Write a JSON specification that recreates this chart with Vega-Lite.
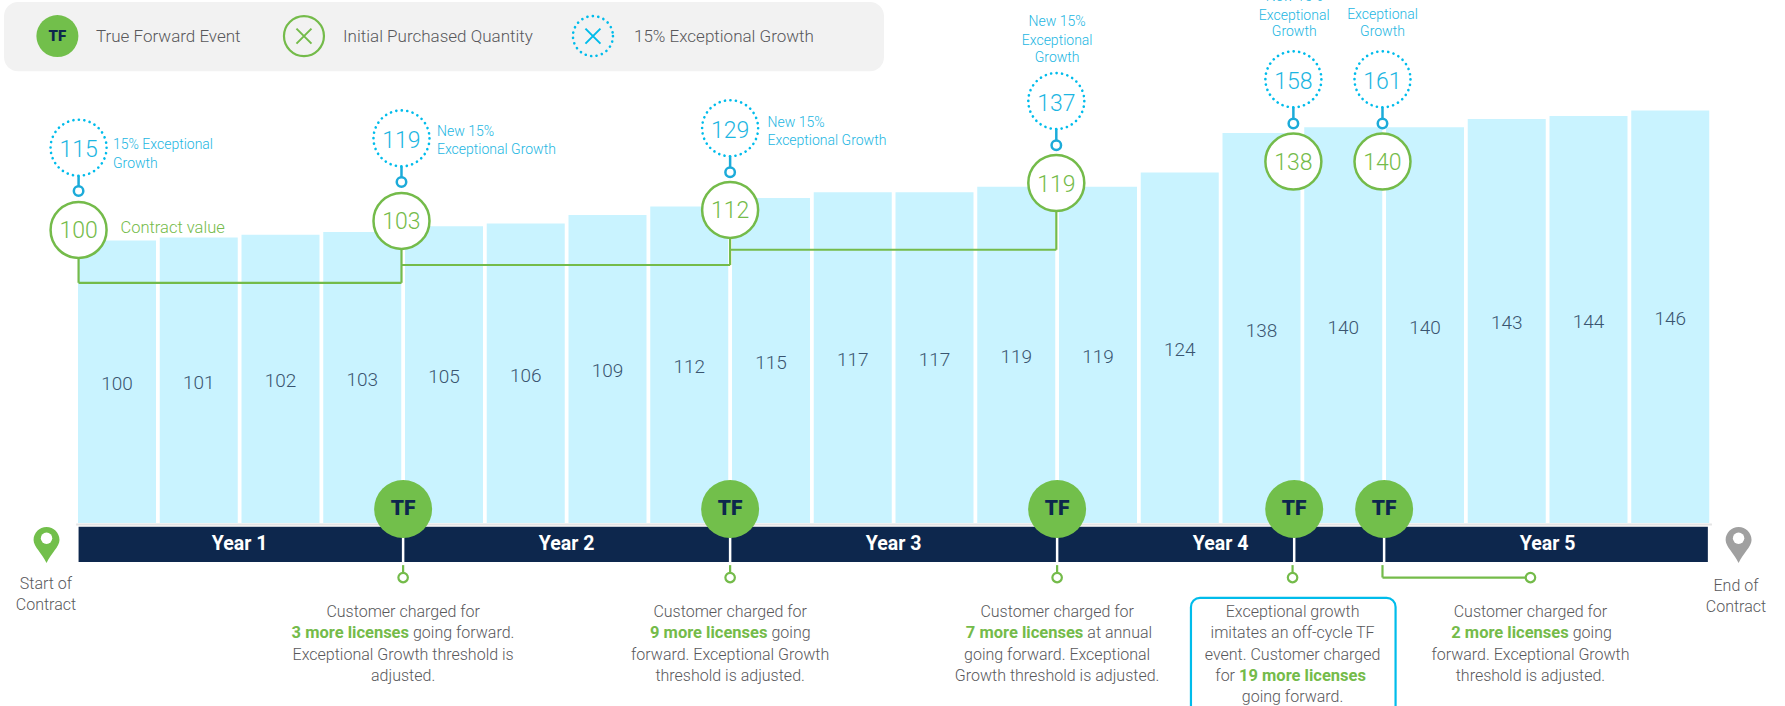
{
"$schema":"https://vega.github.io/schema/vega-lite/v6.json",
"width":1785,"height":706,"autosize":{"type":"fit","contains":"padding"},"padding":0,"background":"white",
"config":{"view":{"stroke":null},"text":{"font":"Roboto","fontWeight":300,"baseline":"middle"}},
"datasets":{
"bars":[{"q":1,"v":100,"mid":50},{"q":2,"v":101,"mid":50.5},{"q":3,"v":102,"mid":51},{"q":4,"v":103,"mid":51.5},{"q":5,"v":105,"mid":52.5},{"q":6,"v":106,"mid":53},{"q":7,"v":109,"mid":54.5},{"q":8,"v":112,"mid":56},{"q":9,"v":115,"mid":57.5},{"q":10,"v":117,"mid":58.5},{"q":11,"v":117,"mid":58.5},{"q":12,"v":119,"mid":59.5},{"q":13,"v":119,"mid":59.5},{"q":14,"v":124,"mid":62},{"q":15,"v":138,"mid":69},{"q":16,"v":140,"mid":70},{"q":17,"v":140,"mid":70},{"q":18,"v":143,"mid":71.5},{"q":19,"v":144,"mid":72},{"q":20,"v":146,"mid":73}],
"events":[{"q":4.5,"v":4.95,"top":0,"bot":-13.8,"t":"TF"},{"q":8.5,"v":4.95,"top":0,"bot":-13.8,"t":"TF"},{"q":12.5,"v":4.95,"top":0,"bot":-13.8,"t":"TF"},{"q":15.4,"v":4.95,"top":0,"bot":-13.8,"t":"TF"},{"q":16.5,"v":4.95,"top":0,"bot":-13.8,"t":"TF"}],
"years":[{"q":2.5,"v":-7.4,"t":"Year 1"},{"q":6.5,"v":-7.4,"t":"Year 2"},{"q":10.5,"v":-7.4,"t":"Year 3"},{"q":14.5,"v":-7.4,"t":"Year 4"},{"q":18.5,"v":-7.4,"t":"Year 5"}],
"green":[{"q":0.53,"v":103.7,"t":"100"},{"q":4.48,"v":106.9,"t":"103"},{"q":8.5,"v":110.8,"t":"112"},{"q":12.49,"v":120.3,"t":"119"},{"q":15.39,"v":127.9,"t":"138"},{"q":16.48,"v":127.9,"t":"140"}],
"cyan":[{"q":0.53,"v":132.8,"r":117.5,"t":"115"},{"q":4.48,"v":136.1,"r":120.7,"t":"119"},{"q":8.5,"v":139.7,"r":124.1,"t":"129"},{"q":12.49,"v":149.3,"r":133.7,"t":"137"},{"q":15.39,"v":157,"r":141.4,"t":"158"},{"q":16.48,"v":157,"r":141.4,"t":"161"}],
"links":[{"q":0.53,"q2":0.53,"v":103.7,"v2":85},{"q":0.53,"q2":4.48,"v":85,"v2":85},{"q":4.48,"q2":4.48,"v":85,"v2":106.9},{"q":4.48,"q2":8.5,"v":91.3,"v2":91.3},{"q":8.5,"q2":8.5,"v":91.3,"v2":110.8},{"q":8.5,"q2":12.49,"v":96.7,"v2":96.7},{"q":12.49,"q2":12.49,"v":96.7,"v2":120.3},
{"q":4.5,"q2":4.5,"v":-14.9,"v2":-19.3},{"q":8.5,"q2":8.5,"v":-14.9,"v2":-19.3},{"q":12.5,"q2":12.5,"v":-14.9,"v2":-19.3},{"q":15.38,"q2":15.38,"v":-14.9,"v2":-19.3},{"q":16.48,"q2":16.48,"v":-14.9,"v2":-19.3},{"q":16.48,"q2":18.29,"v":-19.3,"v2":-19.3}],
"rings":[{"q":4.5,"v":-19.3},{"q":8.5,"v":-19.3},{"q":12.5,"v":-19.3},{"q":15.38,"v":-19.3},{"q":18.29,"v":-19.3}],
"body":[
{"q":4.5,"v":-31.4,"t":"Customer charged for"},{"q":4.5,"v":-46.6,"t":"Exceptional Growth threshold is"},{"q":4.5,"v":-54.1,"t":"adjusted."},
{"q":8.5,"v":-31.4,"t":"Customer charged for"},{"q":8.5,"v":-46.6,"t":"forward. Exceptional Growth"},{"q":8.5,"v":-54.1,"t":"threshold is adjusted."},
{"q":12.5,"v":-31.4,"t":"Customer charged for"},{"q":12.5,"v":-46.6,"t":"going forward. Exceptional"},{"q":12.5,"v":-54.1,"t":"Growth threshold is adjusted."},
{"q":15.38,"v":-31.4,"t":"Exceptional growth"},{"q":15.38,"v":-38.9,"t":"imitates an off-cycle TF"},{"q":15.38,"v":-46.6,"t":"event. Customer charged"},{"q":15.38,"v":-61.5,"t":"going forward."},
{"q":18.29,"v":-31.4,"t":"Customer charged for"},{"q":18.29,"v":-46.6,"t":"forward. Exceptional Growth"},{"q":18.29,"v":-54.1,"t":"threshold is adjusted."},
{"q":0.131,"v":-21.5,"t":"Start of"},{"q":0.131,"v":-29,"t":"Contract"},{"q":20.804,"v":-22.2,"t":"End of"},{"q":20.804,"v":-29.6,"t":"Contract"}],
"boldR":[{"q":4.572,"v":-38.9,"t":"3 more licenses"},{"q":8.957,"v":-38.9,"t":"9 more licenses"},{"q":12.82,"v":-38.9,"t":"7 more licenses"},{"q":18.758,"v":-38.9,"t":"2 more licenses"}],
"plainL":[{"q":4.62,"v":-38.9,"t":"going forward."},{"q":9.006,"v":-38.9,"t":"going"},{"q":12.87,"v":-38.9,"t":"at annual"},{"q":18.807,"v":-38.9,"t":"going"}],
"labelsL":[{"q":0.951,"v":133.6,"t":"15% Exceptional"},{"q":0.951,"v":126.9,"t":"Growth"},{"q":4.914,"v":138.5,"t":"New 15%"},{"q":4.914,"v":132.1,"t":"Exceptional Growth"},{"q":8.957,"v":141.7,"t":"New 15%"},{"q":8.957,"v":135,"t":"Exceptional Growth"}],
"labelsC":[{"q":12.5,"v":177.4,"t":"New 15%"},{"q":12.5,"v":170.5,"t":"Exceptional"},{"q":12.5,"v":164.7,"t":"Growth"},{"q":15.4,"v":186,"t":"New 15%"},{"q":15.4,"v":179.3,"t":"Exceptional"},{"q":15.4,"v":173.6,"t":"Growth"},{"q":16.48,"v":186.5,"t":"New 15%"},{"q":16.48,"v":179.7,"t":"Exceptional"},{"q":16.48,"v":173.9,"t":"Growth"}],
"legendText":[{"q":0.743,"v":172,"t":"True Forward Event"},{"q":3.765,"v":172,"t":"Initial Purchased Quantity"},{"q":7.324,"v":172,"t":"15% Exceptional Growth"}]
},
"encoding":{
"x":{"field":"q","type":"quantitative","scale":{"domain":[-0.4312,21.4037],"nice":false,"zero":false,"padding":0},"axis":null},
"y":{"field":"v","type":"quantitative","scale":{"domain":[-64.756,185.07],"nice":false,"zero":false,"padding":0},"axis":null}
},
"layer":[
{"data":{"values":[{"q":-0.382,"q2":10.382,"v":184.4,"v2":159.9}]},"mark":{"type":"rect","fill":"#f2f2f2","cornerRadius":14},"encoding":{"x2":{"field":"q2"},"y2":{"field":"v2"}}},
{"data":{"name":"bars"},"mark":{"type":"bar","size":78,"fill":"#c9f3ff"}},
{"data":{"values":[{"q":0.5,"q2":20.51,"v":-0.5}]},"mark":{"type":"rule","stroke":"#e4e4e4","strokeWidth":2},"encoding":{"x2":{"field":"q2"}}},
{"data":{"name":"bars"},"mark":{"type":"text","fontSize":19,"fill":"#3a5570","dy":2.5},"encoding":{"y":{"field":"mid","type":"quantitative"},"text":{"field":"v"}}},
{"data":{"values":[{"q":0.53,"q2":20.46,"v":-1.3,"v2":-13.8}]},"mark":{"type":"rect","fill":"#0d274d"},"encoding":{"x2":{"field":"q2"},"y2":{"field":"v2"}}},
{"data":{"name":"years"},"mark":{"type":"text","fontWeight":700,"fontSize":19.5,"fill":"white"},"encoding":{"text":{"field":"t"}}},
{"data":{"name":"events"},"mark":{"type":"rule","stroke":"white","strokeWidth":2.5},"encoding":{"y":{"field":"top","type":"quantitative"},"y2":{"field":"bot"}}},
{"data":{"name":"events"},"mark":{"type":"point","shape":"circle","size":3364,"filled":true,"fill":"#72bf4b","opacity":1}},
{"data":{"name":"events"},"mark":{"type":"text","fontWeight":900,"fontSize":21,"fill":"#0d274d"},"encoding":{"text":{"field":"t"}}},
{"data":{"name":"links"},"mark":{"type":"rule","stroke":"#74bb4a","strokeWidth":2.2},"encoding":{"x2":{"field":"q2"},"y2":{"field":"v2"}}},
{"data":{"name":"rings"},"mark":{"type":"point","shape":"circle","size":90,"filled":true,"fill":"white","stroke":"#74bb4a","strokeWidth":2.2,"opacity":1}},
{"data":{"name":"cyan"},"mark":{"type":"rule","stroke":"#1cabd9","strokeWidth":2.5},"encoding":{"y2":{"field":"r"}}},
{"data":{"name":"cyan"},"mark":{"type":"point","shape":"circle","size":90,"filled":true,"fill":"white","stroke":"#1cabd9","strokeWidth":2.5,"opacity":1},"encoding":{"y":{"field":"r","type":"quantitative"}}},
{"data":{"name":"cyan"},"mark":{"type":"point","shape":"circle","size":3136,"filled":true,"fill":"white","stroke":"#00bceb","strokeWidth":2.6,"strokeDash":[0.1,5.4],"strokeCap":"round","opacity":1}},
{"data":{"name":"cyan"},"mark":{"type":"text","fontSize":23,"fill":"#1cb6e2","dy":2.5},"encoding":{"text":{"field":"t"}}},
{"data":{"name":"green"},"mark":{"type":"point","shape":"circle","size":3136,"filled":true,"fill":"white","stroke":"#74bb4a","strokeWidth":2.5,"opacity":1}},
{"data":{"name":"green"},"mark":{"type":"text","fontSize":23,"fill":"#74bb4a","dy":1.5},"encoding":{"text":{"field":"t"}}},
{"data":{"values":[{"q":14.137,"q2":16.64,"v":-26.5,"v2":-69.7}]},"mark":{"type":"rect","fill":"white","stroke":"#00bceb","strokeWidth":2.2,"cornerRadius":9,"clip":true},"encoding":{"x2":{"field":"q2"},"y2":{"field":"v2"}}},
{"data":{"name":"body"},"mark":{"type":"text","fontSize":16,"fill":"#58585b","align":"center"},"encoding":{"text":{"field":"t"}}},
{"data":{"name":"boldR"},"mark":{"type":"text","fontSize":16.5,"fontWeight":700,"fill":"#74bb4a","align":"right"},"encoding":{"text":{"field":"t"}}},
{"data":{"name":"plainL"},"mark":{"type":"text","fontSize":16,"fill":"#58585b","align":"left"},"encoding":{"text":{"field":"t"}}},
{"data":{"values":[{"q":14.676,"v":-54.1,"t":"for"}]},"mark":{"type":"text","fontSize":16,"fill":"#58585b","align":"right"},"encoding":{"text":{"field":"t"}}},
{"data":{"values":[{"q":14.725,"v":-54.1,"t":"19 more licenses"}]},"mark":{"type":"text","fontSize":16.5,"fontWeight":700,"fill":"#74bb4a","align":"left"},"encoding":{"text":{"field":"t"}}},
{"data":{"values":[{"q":1.043,"v":104.4,"t":"Contract value"}]},"mark":{"type":"text","fontSize":16.5,"fill":"#74bb4a","align":"left"},"encoding":{"text":{"field":"t"}}},
{"data":{"name":"labelsL"},"mark":{"type":"text","fontSize":14,"fill":"#1cb6e2","align":"left"},"encoding":{"text":{"field":"t"}}},
{"data":{"name":"labelsC"},"mark":{"type":"text","fontSize":14,"fill":"#1cb6e2","align":"center","clip":true},"encoding":{"text":{"field":"t"}}},
{"data":{"values":[{"q":0.138,"v":-7.8}]},"mark":{"type":"point","shape":"M0,1C-0.25,0.45,-0.72,0.1,-0.72,-0.28A0.72,0.72,0,1,1,0.72,-0.28C0.72,0.1,0.25,0.45,0,1Z","size":1296,"filled":true,"fill":"#72bf4b","opacity":1}},
{"data":{"values":[{"q":20.836,"v":-7.8}]},"mark":{"type":"point","shape":"M0,1C-0.25,0.45,-0.72,0.1,-0.72,-0.28A0.72,0.72,0,1,1,0.72,-0.28C0.72,0.1,0.25,0.45,0,1Z","size":1296,"filled":true,"fill":"#a0a0a0","opacity":1}},
{"data":{"values":[{"q":0.138,"v":-5.4},{"q":20.836,"v":-5.4}]},"mark":{"type":"point","shape":"circle","size":130,"filled":true,"fill":"white","opacity":1}},
{"data":{"values":[{"q":0.271,"v":172.3,"t":"TF"}]},"mark":{"type":"point","shape":"circle","size":1764,"filled":true,"fill":"#72bf4b","opacity":1}},
{"data":{"values":[{"q":0.271,"v":172.3,"t":"TF"}]},"mark":{"type":"text","fontWeight":900,"fontSize":15,"fill":"#0d274d"},"encoding":{"text":{"field":"t"}}},
{"data":{"values":[{"q":3.287,"v":172.3}]},"mark":{"type":"point","shape":"circle","size":1600,"filled":true,"fill":"#f2f2f2","stroke":"#74bb4a","strokeWidth":2.2,"opacity":1}},
{"data":{"values":[{"q":3.287,"v":172.3}]},"mark":{"type":"point","shape":"M-0.75,-0.75L0.75,0.75M-0.75,0.75L0.75,-0.75","size":400,"filled":false,"stroke":"#74bb4a","strokeWidth":2,"opacity":1}},
{"data":{"values":[{"q":6.822,"v":172.3}]},"mark":{"type":"point","shape":"circle","size":1600,"filled":true,"fill":"#f2f2f2","stroke":"#00bceb","strokeWidth":2.6,"strokeDash":[0.1,5.4],"strokeCap":"round","opacity":1}},
{"data":{"values":[{"q":6.822,"v":172.3}]},"mark":{"type":"point","shape":"M-0.75,-0.75L0.75,0.75M-0.75,0.75L0.75,-0.75","size":400,"filled":false,"stroke":"#00bceb","strokeWidth":2,"opacity":1}},
{"data":{"name":"legendText"},"mark":{"type":"text","fontSize":17,"fill":"#58585b","align":"left"},"encoding":{"text":{"field":"t"}}}
]
}
